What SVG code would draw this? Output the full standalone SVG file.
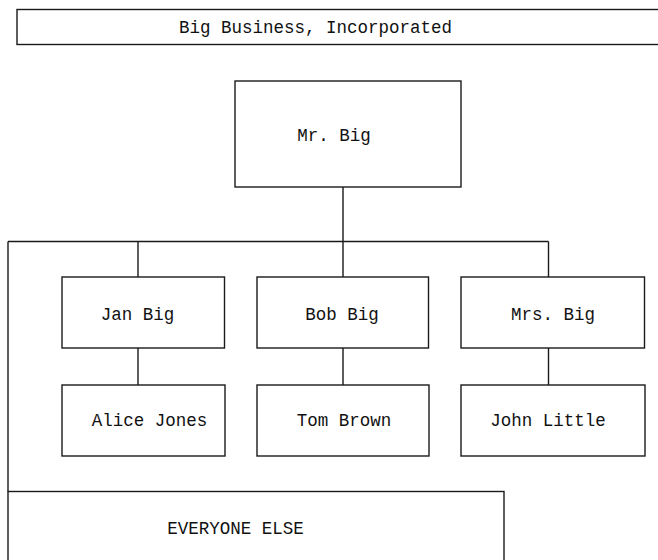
<svg xmlns="http://www.w3.org/2000/svg" width="658" height="560" viewBox="0 0 658 560">
<style>
  .box { fill: #ffffff; stroke: #1a1a1a; stroke-width: 1.4; }
  .lbl { font-family: "Liberation Mono", "Courier New", monospace; font-size: 17.5px; fill: #111111; text-anchor: middle; }
  .conn { fill: none; stroke: #1a1a1a; stroke-width: 1.4; }
</style>
<rect width="658" height="560" fill="#ffffff"/>
<g id="title">
  <rect class="box" x="17" y="9.5" width="645" height="35"/>
  <text class="lbl" x="315.5" y="33">Big Business, Incorporated</text>
</g>
<g id="connectors">
  <path class="conn" d="M343,187 V241.5 M8,241.5 H548.5 M138,241.5 V277 M343,241.5 V277 M548.5,241.5 V277 M8,241.5 V491.5 M138,348 V385 M343,348 V385 M548.5,348 V385"/>
</g>
<g id="mr-big">
  <rect class="box" x="235" y="81" width="226" height="106"/>
  <text class="lbl" x="334" y="141">Mr. Big</text>
</g>
<g id="jan-big">
  <rect class="box" x="62" y="277" width="162.5" height="71"/>
  <text class="lbl" x="137.5" y="320">Jan Big</text>
</g>
<g id="bob-big">
  <rect class="box" x="257" y="277" width="171.5" height="71"/>
  <text class="lbl" x="342" y="320">Bob Big</text>
</g>
<g id="mrs-big">
  <rect class="box" x="461" y="277" width="183.5" height="71"/>
  <text class="lbl" x="553" y="320">Mrs. Big</text>
</g>
<g id="alice-jones">
  <rect class="box" x="62" y="385" width="163" height="71"/>
  <text class="lbl" x="149.5" y="426">Alice Jones</text>
</g>
<g id="tom-brown">
  <rect class="box" x="257" y="385" width="172" height="71"/>
  <text class="lbl" x="344" y="426">Tom Brown</text>
</g>
<g id="john-little">
  <rect class="box" x="461" y="385" width="184" height="71"/>
  <text class="lbl" x="548" y="426">John Little</text>
</g>
<g id="everyone-else">
  <rect class="box" x="8" y="491.5" width="496" height="80"/>
  <text class="lbl" x="235.5" y="534">EVERYONE ELSE</text>
</g>
</svg>
